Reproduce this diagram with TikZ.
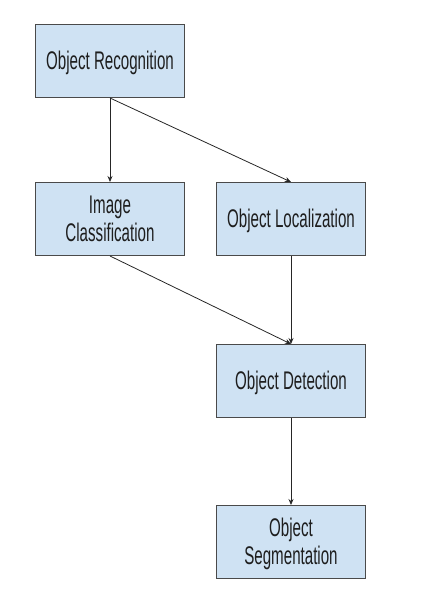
\documentclass[tikz,border=0pt]{standalone}
\usepackage{fontspec}
\setmainfont{Liberation Sans}
\usetikzlibrary{arrows.meta}

\definecolor{boxfill}{HTML}{CFE2F3}
\definecolor{boxline}{HTML}{4A4A4A}
\definecolor{txt}{HTML}{1E1E1E}

% narrow, tall lettering as in the drawing
\newcommand{\lbl}[1]{\raisebox{-3pt}[\height][\depth]{%
  \scalebox{0.593}[1]{\begin{tabular}{@{}c@{}}#1\end{tabular}}}}

\begin{document}
\begin{tikzpicture}[x=1pt, y=-1pt,
  box/.style={rectangle, draw=boxline, line width=1pt, fill=boxfill,
    minimum width=149pt, minimum height=73pt, inner sep=0pt,
    text=txt, font=\fontsize{25.5}{28}\selectfont},
  link/.style={-{Stealth[length=6pt, width=5pt]}, line width=0.8pt, draw=black!85}]

  \useasboundingbox (0,0) rectangle (443,612);

  % Top node
  \node[box] (rec) at (110,61) {\lbl{Object Recognition}};

  % Second row
  \node[box] (cls) at (110,219) {\lbl{Image\\Classification}};
  \node[box] (loc) at (291,219) {\lbl{Object Localization}};

  % Detection
  \node[box] (det) at (291,381) {\lbl{Object Detection}};

  % Segmentation
  \node[box] (seg) at (291,542) {\lbl{Object\\Segmentation}};

  % Connections
  \draw[link] (rec.south) -- (cls.north);
  \draw[link] (rec.south) -- (loc.north);
  \draw[link] (cls.south) -- (det.north);
  \draw[link] (loc.south) -- (det.north);
  \draw[link] (det.south) -- (seg.north);

\end{tikzpicture}
\end{document}
